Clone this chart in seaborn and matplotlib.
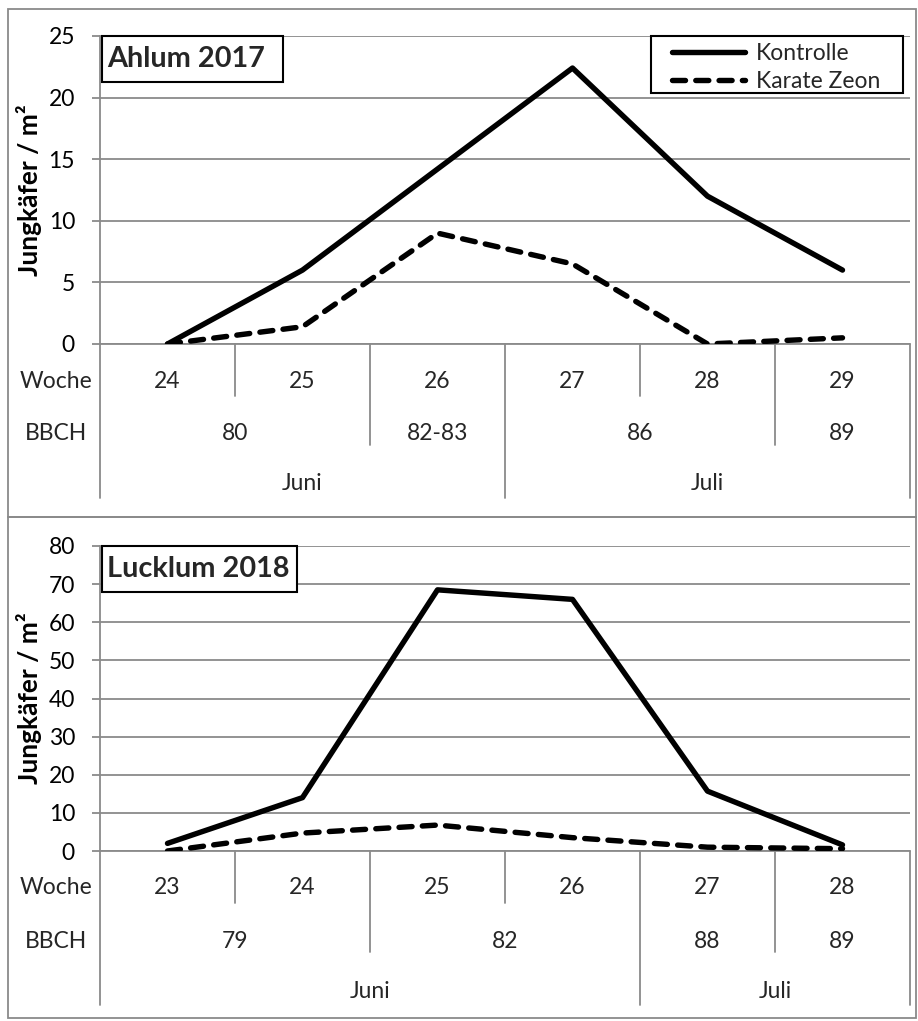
import numpy as np
import pandas as pd
import matplotlib
matplotlib.use("Agg")
import matplotlib.pyplot as plt
import matplotlib.transforms as mtransforms
from matplotlib.patches import Rectangle
from matplotlib.lines import Line2D
import seaborn as sns

# ---------------- data ----------------
ahlum_title = "Ahlum 2017"
ahlum_weeks = ["24", "25", "26", "27", "28", "29"]
ahlum_kontrolle = [0, 6, 14.2, 22.4, 12, 6]
ahlum_karate = [0, 1.4, 9, 6.5, 0, 0.5]
ahlum_bbch_labels = ["80", "82-83", "86", "89"]
ahlum_bbch_spans = [2, 1, 2, 1]
ahlum_month_labels = ["Juni", "Juli"]
ahlum_month_spans = [3, 3]

lucklum_title = "Lucklum 2018"
lucklum_weeks = ["23", "24", "25", "26", "27", "28"]
lucklum_kontrolle = [2, 14, 68.5, 66, 15.7, 1.6]
lucklum_karate = [0, 4.7, 6.8, 3.5, 1.0, 0.6]
lucklum_bbch_labels = ["79", "82", "88", "89"]
lucklum_bbch_spans = [2, 2, 1, 1]
lucklum_month_labels = ["Juni", "Juli"]
lucklum_month_spans = [4, 2]

series_names = ["Kontrolle", "Karate Zeon"]
ylabel = "Jungkäfer / m²"

# ---------------- style ----------------
sns.set_theme(style="white")
plt.rcParams["font.family"] = ["Lato", "DejaVu Sans"]

GRAY = "#8a8a8a"
W, H = 918, 1021
fig = plt.figure(figsize=(W / 100, H / 100), dpi=100)
fig.patch.set_facecolor("white")

TICK_FS = 16.5
TITLE_FS = 20.8
YLAB_FS = 19


def px_axes(left, top, right, bottom):
    return fig.add_axes([left / W, 1 - bottom / H, (right - left) / W, (bottom - top) / H])


def frame(top, bottom):
    fig.add_artist(Rectangle((8 / W, 1 - bottom / H), (916 - 8) / W, (bottom - top) / H,
                             transform=fig.transFigure, fill=False, ec=GRAY, lw=1.3))


def draw_panel(ax, weeks, kon, kar, ymax, ystep, bbch_labels, bbch_spans,
               month_labels, month_spans, title, title_box_right, legend):
    n = len(weeks)
    df = pd.DataFrame({
        "Woche": weeks + weeks,
        "Wert": kon + kar,
        "Behandlung": [series_names[0]] * n + [series_names[1]] * n,
    })
    sns.lineplot(data=df, x="Woche", y="Wert", style="Behandlung",
                 style_order=series_names,
                 dashes={series_names[0]: "", series_names[1]: (2.4, 1.9)},
                 color="black", lw=3.9, ax=ax, legend=False, sort=False)
    for ln in ax.lines:
        ln.set_solid_capstyle("round")
        ln.set_dash_capstyle("round")
        ln.set_solid_joinstyle("round")
        ln.set_dash_joinstyle("round")
        ln.set_zorder(5)

    ax.set_xlim(-0.5, n - 0.5)
    ax.set_ylim(0, ymax)
    ax.set_yticks(np.arange(0, ymax + 0.1, ystep))
    ax.set_yticklabels([f"{int(v)}" for v in np.arange(0, ymax + 0.1, ystep)])
    ax.set_xticks([])
    ax.set_xlabel("")
    ax.grid(axis="y", color=GRAY, lw=1.3)
    ax.grid(axis="x", visible=False)
    ax.set_axisbelow(True)
    for s in ["top", "right", "bottom"]:
        ax.spines[s].set_visible(False)
    ax.spines["left"].set_color(GRAY)
    ax.spines["left"].set_linewidth(1.3)
    ax.tick_params(axis="y", left=True, length=6, width=1.3, color=GRAY, pad=12,
                   labelsize=TICK_FS, labelcolor="black")
    ax.set_ylabel(ylabel, fontweight="bold", fontsize=YLAB_FS, color="black")
    ax.yaxis.set_label_coords((29 - 100) / 810, 0.5)
    ax.yaxis.label.set_verticalalignment("center")

    # multi-level category axis
    ah = ax.bbox.height
    aw = ax.bbox.width
    fy = lambda px: -px / ah
    fx = lambda px: (px - 100) / aw
    tr = mtransforms.blended_transform_factory(ax.transData, ax.transAxes)

    bbch_bounds = set(np.cumsum([0] + bbch_spans))
    month_bounds = set(np.cumsum([0] + month_spans))
    for k in range(n + 1):
        if k in month_bounds:
            depth = 154
        elif k in bbch_bounds:
            depth = 101
        else:
            depth = 52
        ax.add_line(Line2D([k - 0.5, k - 0.5], [0, fy(depth)], transform=tr,
                           color=GRAY, lw=1.3, clip_on=False))
    ax.add_line(Line2D([-0.5, n - 0.5], [0, 0], transform=tr, color=GRAY, lw=1.3, clip_on=False))

    for i, w in enumerate(weeks):
        ax.text(i, fy(37), w, transform=tr, ha="center", va="center", fontsize=TICK_FS)
    start = 0
    for lab, sp in zip(bbch_labels, bbch_spans):
        ax.text(start + (sp - 1) / 2, fy(90), lab, transform=tr, ha="center", va="center",
                fontsize=TICK_FS)
        start += sp
    start = 0
    for lab, sp in zip(month_labels, month_spans):
        ax.text(start + (sp - 1) / 2, fy(140), lab, transform=tr, ha="center", va="center",
                fontsize=TICK_FS)
        start += sp
    ax.text(fx(56), fy(37), "Woche", transform=ax.transAxes, ha="center",
            va="center", fontsize=TICK_FS)
    ax.text(fx(56), fy(90), "BBCH", transform=ax.transAxes, ha="center",
            va="center", fontsize=TICK_FS)

    # title box
    bx0 = fx(102)
    bx1 = fx(title_box_right)
    bh = 46 / ah
    ax.add_patch(Rectangle((bx0, 1 - bh), bx1 - bx0, bh, transform=ax.transAxes,
                           fc="white", ec="black", lw=1.5, zorder=6, clip_on=False))
    ax.text(fx(107), 1 - bh / 2, title, transform=ax.transAxes, ha="left",
            va="center", fontsize=TITLE_FS, fontweight="bold", zorder=7)

    if legend:
        # legend frame (Excel style, wider than the entries)
        ax.add_patch(Rectangle((fx(651), 1 - 57 / ah), fx(903) - fx(651), 57 / ah,
                               transform=ax.transAxes, fc="white", ec="black", lw=1.5,
                               zorder=7, clip_on=False))
        handles = ax.lines[:2]
        leg = ax.legend(handles=handles, labels=series_names, loc="upper left",
                        bbox_to_anchor=(fx(672), 1 - 7 / ah), borderaxespad=0, frameon=False,
                        fontsize=TICK_FS, handlelength=3.2, handletextpad=0.45,
                        labelspacing=0.3, borderpad=0)
        leg.set_zorder(8)


frame(9, 517)
frame(517, 1018)

ax1 = px_axes(100, 36, 910, 344)
draw_panel(ax1, ahlum_weeks, ahlum_kontrolle, ahlum_karate, 25, 5,
           ahlum_bbch_labels, ahlum_bbch_spans, ahlum_month_labels, ahlum_month_spans,
           ahlum_title, 283, legend=True)

ax2 = px_axes(100, 546, 910, 851)
draw_panel(ax2, lucklum_weeks, lucklum_kontrolle, lucklum_karate, 80, 10,
           lucklum_bbch_labels, lucklum_bbch_spans, lucklum_month_labels, lucklum_month_spans,
           lucklum_title, 297, legend=False)

fig.savefig("out.png", dpi=100, facecolor="white")
